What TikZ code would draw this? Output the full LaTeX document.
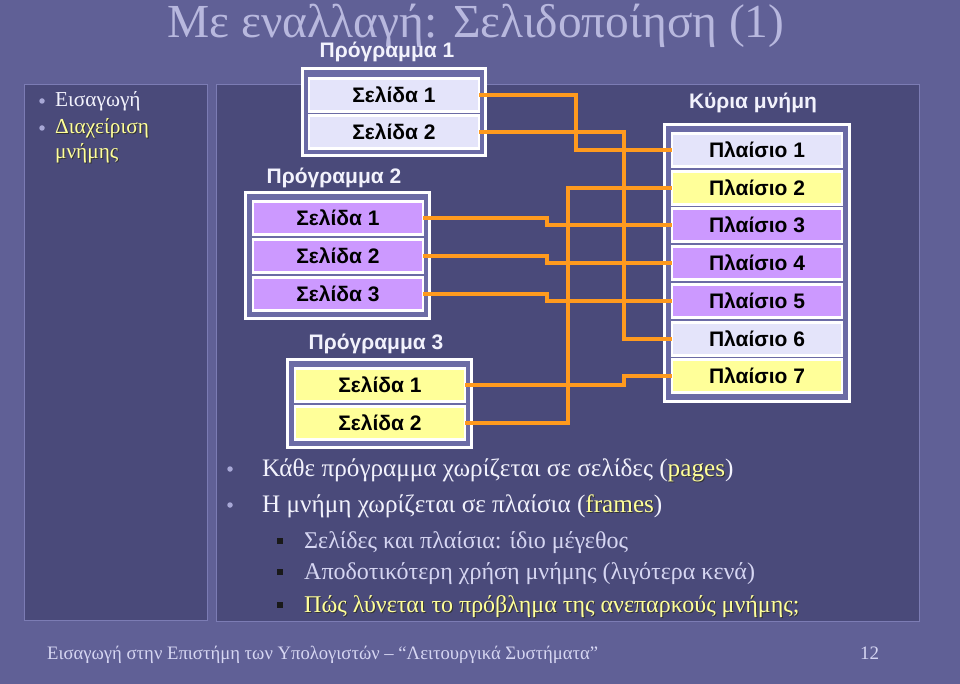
\documentclass[tikz,border=0pt]{standalone}
\usepackage{fontspec}
\setmainfont{Liberation Serif}
\setsansfont{Liberation Sans}
\usepackage{graphicx}
\definecolor{slidebg}{HTML}{606096}
\definecolor{panelbg}{HTML}{4A4A7A}
\definecolor{panelln}{HTML}{7C7CB4}
\definecolor{titlec}{HTML}{B8B8DE}
\definecolor{bandc}{HTML}{6B6BA5}
\definecolor{lightc}{HTML}{E4E4FA}
\definecolor{purpc}{HTML}{CC99FF}
\definecolor{yelcell}{HTML}{FFFF99}
\definecolor{yelc}{HTML}{FFFF99}
\definecolor{wirec}{HTML}{FF9A1E}
\definecolor{textc}{HTML}{F2F2FC}
\definecolor{subc}{HTML}{D6D6F2}
\definecolor{dotc}{HTML}{A8A8D6}
\newcommand\yel[1]{\leavevmode\rlap{\kern1pt\raisebox{-1pt}{\color{black!80}#1}}{\color{yelc}#1}}
\begin{document}
\begin{tikzpicture}[x=1pt,y=-1pt,
  cellbox/.style={draw=white, line width=2.5pt, minimum width=170pt, minimum height=33pt,
    inner sep=0pt, outer sep=0pt, text=black, font=\sffamily\bfseries\fontsize{21}{23}\selectfont},
  framebox/.style={draw=white, line width=3pt, fill=bandc},
  wire/.style={draw=wirec, line width=3.5pt, line join=miter},
  boxlabel/.style={text=textc, inner sep=0pt, font=\sffamily\bfseries\fontsize{21}{23}\selectfont},
  bodytext/.style={anchor=base west, inner sep=0pt, text=textc, font=\fontsize{25.2}{28}\selectfont},
  subtext/.style={anchor=base west, inner sep=0pt, text=subc, font=\fontsize{24}{26}\selectfont},
  sidetext/.style={anchor=base west, inner sep=0pt, text=textc, font=\fontsize{21.3}{23}\selectfont},
  dotbullet/.style={circle, fill=dotc, inner sep=0pt, minimum size=5.5pt},
  sqbullet/.style={rectangle, fill=black!90, inner sep=0pt, minimum size=6pt},
  panel/.style={fill=panelbg, draw=panelln, line width=1pt}
]
\useasboundingbox (0,0) rectangle (960,684);
\fill[slidebg] (0,0) rectangle (960,684);

% title
\node[anchor=base, inner sep=0pt, text=titlec, font=\fontsize{47.4}{50}\selectfont] (title) at (476,38) {Με εναλλαγή: Σελιδοποίηση (1)};

% panels
\draw[panel] (24.5,84.5) rectangle (207.5,620.5);
\draw[panel] (216.5,84.5) rectangle (919.5,621.5);

% left panel
\node[dotbullet] (lb1) at (42,101) {};
\node[sidetext] (lt1) at (55,107) {Εισαγωγή};
\node[dotbullet] (lb2) at (42,128) {};
\node[sidetext] (lt2) at (55,134) {\yel{Διαχείριση}};
\node[sidetext] (lt3) at (55,159) {\yel{μνήμης}};

% Program 1
\node[boxlabel] (lab1) at (387,52) {Πρόγραμμα 1};
\draw[framebox] (302.5,68.5) rectangle (485.5,155.5);
\node[cellbox, fill=lightc] (p1s1) at (394,95) {Σελίδα 1};
\node[cellbox, fill=lightc] (p1s2) at (394,132) {Σελίδα 2};

% Program 2
\node[boxlabel] (lab2) at (334,178) {Πρόγραμμα 2};
\draw[framebox] (245.5,192.5) rectangle (429.5,318.5);
\node[cellbox, fill=purpc] (p2s1) at (338,218) {Σελίδα 1};
\node[cellbox, fill=purpc] (p2s2) at (338,256) {Σελίδα 2};
\node[cellbox, fill=purpc] (p2s3) at (338,294) {Σελίδα 3};

% Program 3
\node[boxlabel] (lab3) at (376,344) {Πρόγραμμα 3};
\draw[framebox] (287.5,359.5) rectangle (471.5,447.5);
\node[cellbox, fill=yelcell] (p3s1) at (380,385) {Σελίδα 1};
\node[cellbox, fill=yelcell] (p3s2) at (380,423) {Σελίδα 2};

% Main memory
\node[boxlabel] (labm) at (753,103) {Κύρια μνήμη};
\draw[framebox] (664.5,124.5) rectangle (849.5,401.5);
\node[cellbox, fill=lightc] (m1) at (757,150) {Πλαίσιο 1};
\node[cellbox, fill=yelcell] (m2) at (757,188) {Πλαίσιο 2};
\node[cellbox, fill=purpc] (m3) at (757,225) {Πλαίσιο 3};
\node[cellbox, fill=purpc] (m4) at (757,263) {Πλαίσιο 4};
\node[cellbox, fill=purpc] (m5) at (757,301) {Πλαίσιο 5};
\node[cellbox, fill=lightc] (m6) at (757,339) {Πλαίσιο 6};
\node[cellbox, fill=yelcell] (m7) at (757,376) {Πλαίσιο 7};

% wire columns
\coordinate (va) at (576,0);
\coordinate (vb) at (624,0);
\coordinate (vc) at (547,0);
\coordinate (vd) at (568,0);

\draw[wire] (p1s1.east) -- (p1s1.east -| va) |- (m1.west);
\draw[wire] (p1s2.east) -- (p1s2.east -| vb) |- (m6.west);
\draw[wire] (p2s1.east) -- (p2s1.east -| vc) -- (m3.west -| vc) -- (m3.west);
\draw[wire] (p2s2.east) -- (p2s2.east -| vc) -- (m4.west -| vc) -- (m4.west);
\draw[wire] (p2s3.east) -- (p2s3.east -| vc) -- (m5.west -| vc) -- (m5.west);
\draw[wire] (p3s1.east) -- (p3s1.east -| vb) -- (m7.west -| vb) -- (m7.west);
\draw[wire] (p3s2.east) -- (p3s2.east -| vd) |- (m2.west);

% main bullets
\node[dotbullet] (mb1) at (230,469) {};
\node[bodytext] (mt1) at (262,476) {Κάθε πρόγραμμα χωρίζεται σε σελίδες (\yel{pages})};
\node[dotbullet] (mb2) at (230,505) {};
\node[bodytext] (mt2) at (262,512) {Η μνήμη χωρίζεται σε πλαίσια (\yel{frames})};
\node[sqbullet] (sb1) at (280,541) {};
\node[subtext] (st1) at (304,548) {Σελίδες και πλαίσια: ίδιο μέγεθος};
\node[sqbullet] (sb2) at (280,572) {};
\node[subtext] (st2) at (304,579) {Αποδοτικότερη χρήση μνήμης (λιγότερα κενά)};
\node[sqbullet] (sb3) at (280,605) {};
\node[subtext] (st3) at (304,612) {\yel{Πώς λύνεται το πρόβλημα της ανεπαρκούς μνήμης;}};

% footer
\node[anchor=base west, inner sep=0pt, text=subc] (foot) at (47,659)
  {\resizebox{551pt}{\height}{\fontsize{19}{20}\selectfont Εισαγωγή στην Επιστήμη των Υπολογιστών – “Λειτουργικά Συστήματα”}};
\node[anchor=base west, inner sep=0pt, text=subc, font=\fontsize{19}{20}\selectfont] (pnum) at (860,659) {12};
\end{tikzpicture}
\end{document}
